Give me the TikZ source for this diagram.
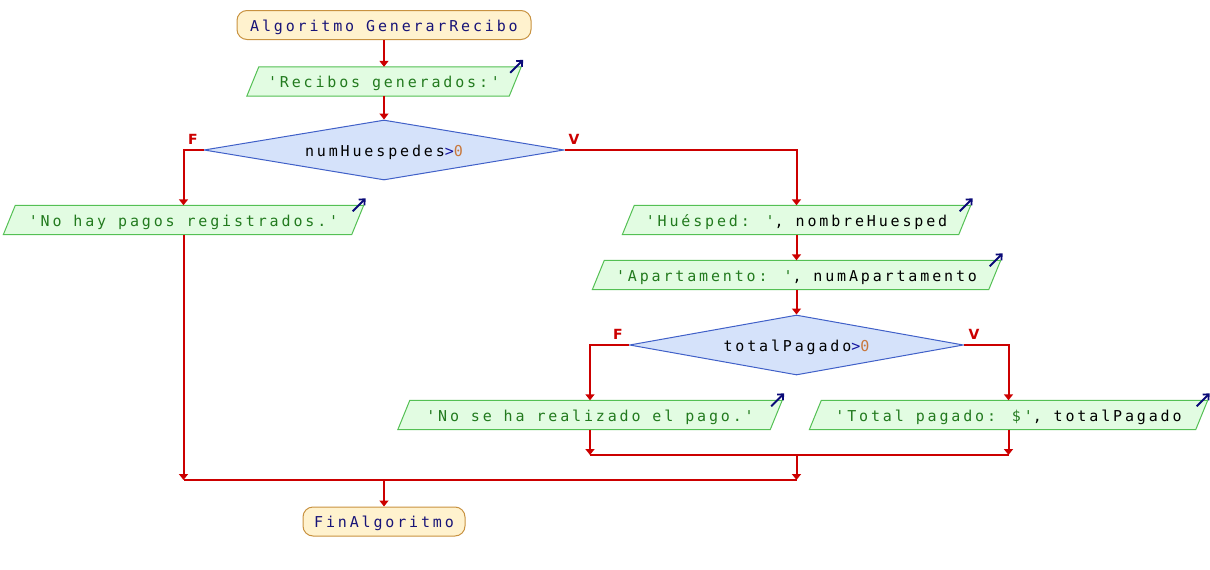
\documentclass[tikz,border=0pt]{standalone}
\usepackage{fontspec}
\usetikzlibrary{shapes.geometric,arrows.meta,calc,backgrounds}
\newfontfamily\pmono[LetterSpace=19]{DejaVu Sans Mono}
\newfontfamily\plab{DejaVu Sans}
\definecolor{termfill}{RGB}{255,242,206}
\definecolor{termdraw}{RGB}{200,146,64}
\definecolor{termtext}{RGB}{24,20,120}
\definecolor{outfill}{RGB}{226,252,226}
\definecolor{outdraw}{RGB}{84,192,84}
\definecolor{strcol}{RGB}{34,122,30}
\definecolor{decfill}{RGB}{213,226,250}
\definecolor{decdraw}{RGB}{64,96,200}
\definecolor{flowred}{RGB}{204,0,0}
\definecolor{opblue}{RGB}{20,20,160}
\definecolor{numorange}{RGB}{200,120,60}
\definecolor{iconblue}{RGB}{10,10,120}
\tikzset{
  x=1pt, y=-1pt,
  txt/.style={font=\pmono\fontsize{15}{18}\selectfont, text height=12pt, text depth=0pt, inner sep=0pt},
  term/.style={txt, rectangle, rounded corners=10pt, draw=termdraw, fill=termfill, line width=1pt, text=termtext, minimum height=29pt},
  outtext/.style={txt, rectangle, minimum height=29pt, text=black},
  outshape/.style={draw=outdraw, fill=outfill, line width=1pt},
  outicon/.style={draw=iconblue, line width=1.8pt, -{Straight Barb[length=4.5pt,width=8pt]}},
  decis/.style={txt, diamond, aspect=6, draw=decdraw, fill=decfill, line width=1pt, text=black},
  flow/.style={draw=flowred, line width=2pt, -{Triangle[length=6pt,width=9pt]}},
  flowline/.style={draw=flowred, line width=2pt},
  lab/.style={font=\plab\bfseries\fontsize{14}{16}\selectfont, text=flowred, inner sep=0pt}
}
\newcommand\outnode[5]{%
  \node[outtext, minimum width=#4] (#1) at (#2,#3) {#5};
  \begin{pgfonlayer}{background}
  \draw[outshape] ($(#1.south west)+(-6,0)$) -- ($(#1.south east)+(-6,0)$) -- ($(#1.north east)+(6,0)$) -- ($(#1.north west)+(6,0)$) -- cycle;
  \end{pgfonlayer}
  \draw[outicon] ($(#1.north east)+(-5,6)$) -- ($(#1.north east)+(8,-7)$);
}
\newcommand\str[1]{\textcolor{strcol}{#1}}
\begin{document}
\begin{tikzpicture}
\useasboundingbox (0,0) rectangle (1210,570);
% nodes
\node[term, minimum width=294pt] (start) at (384,25) {Algoritmo GenerarRecibo};
\outnode{out1}{384}{81.5}{262pt}{\str{'Recibos generados:'}}
\node[decis, minimum width=360pt, minimum height=60pt] (d1) at (384,150) {numHuespedes\textcolor{opblue}{>}\textcolor{numorange}{0}};
\outnode{nohay}{183.5}{220}{348pt}{\str{'No hay pagos registrados.'}}
\outnode{hues}{796.5}{220}{336pt}{\str{'Huésped: '}, nombreHuesped}
\outnode{apart}{796.5}{275}{396pt}{\str{'Apartamento: '}, numApartamento}
\node[decis, minimum width=334pt, minimum height=60pt] (d2) at (796.5,345) {totalPagado\textcolor{opblue}{>}\textcolor{numorange}{0}};
\outnode{nose}{590}{415}{372pt}{\str{'No se ha realizado el pago.'}}
\outnode{total}{1008.5}{415}{386pt}{\str{'Total pagado: \$'}, totalPagado}
\node[term, minimum width=162pt] (fin) at (384,521.5) {FinAlgoritmo};
% labels
\node[lab] (f1) at (193,139) {F};
\node[lab] (v1) at (574,139) {V};
\node[lab] (f2) at (618,334) {F};
\node[lab] (v2) at (974,334) {V};
% join coordinates
\coordinate (jA) at (590,455);
\coordinate (jB) at (1008.5,455);
\coordinate (jC) at (796.5,455);
\coordinate (kA) at (183.5,480);
\coordinate (kB) at (796.5,480);
\coordinate (kC) at (384,480);
% connectors
\draw[flow] (start) -- (out1);
\draw[flow] (out1.south) -- (d1.north);
\draw[flow] (d1.west) -| (nohay.north);
\draw[flow] (d1.east) -| (hues.north);
\draw[flow] (hues) -- (apart);
\draw[flow] (apart.south) -- (d2.north);
\draw[flow] (d2.west) -| (nose.north);
\draw[flow] (d2.east) -| (total.north);
\draw[flow] (nose.south) -- (jA);
\draw[flow] (total.south) -- (jB);
\draw[flowline] (jA) -- (jB);
\draw[flow] (jC) -- (kB);
\draw[flow] (nohay.south) -- (kA);
\draw[flowline] (kA) -- (kB);
\draw[flow] (kC) -- (fin.north);
\end{tikzpicture}
\end{document}
